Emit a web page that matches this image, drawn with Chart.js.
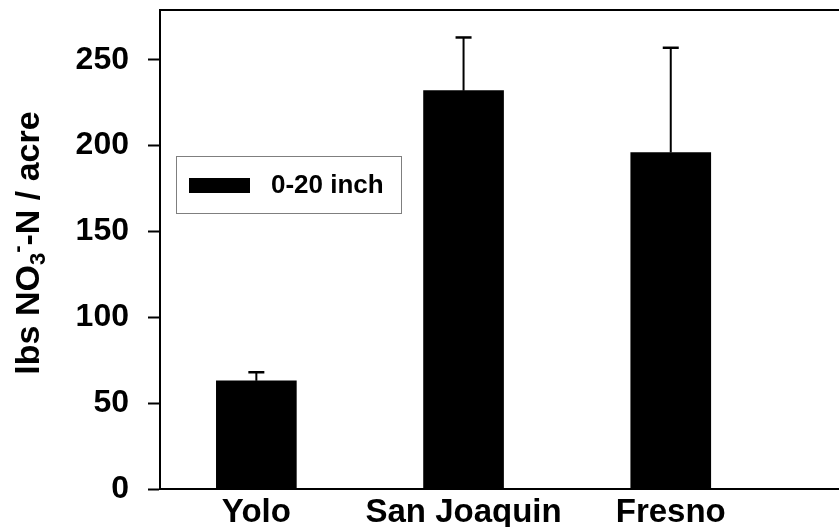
<!DOCTYPE html>
<html>
<head>
<meta charset="utf-8">
<script src="https://cdn.jsdelivr.net/npm/chart.js@4.4.0/dist/chart.umd.min.js"></script>
<style>
  html, body { margin: 0; padding: 0; background: #fff; }
  #wrap { width: 839px; height: 527px; }
</style>
</head>
<body>
<div id="wrap"><canvas id="c" width="839" height="527"></canvas></div>
<script>
// Soil nitrate (0-20 inch) by county, mean with upper error bar
const categories = ['Yolo', 'San Joaquin', 'Fresno'];
const positions = [1, 2, 3];
const nitrate = [63, 232, 196];
const stdError = [5, 31, 61];
const seriesLabel = '0-20 inch';
const yTickValues = [0, 50, 100, 150, 200, 250];
const yMin = 0;
const yMax = 279;
const xMin = 0.535;
const xMax = 3.812;

const FONT = '"Liberation Sans", Arial, Helvetica, sans-serif';

// Upward error bars with caps, placed through the chart scales
const errorBars = {
  id: 'errorBars',
  afterDatasetsDraw(chart) {
    const ctx = chart.ctx;
    const yScale = chart.scales.y;
    const meta = chart.getDatasetMeta(0);
    ctx.save();
    ctx.strokeStyle = '#000';
    meta.data.forEach((bar, i) => {
      const yTop = yScale.getPixelForValue(nitrate[i] + stdError[i]);
      ctx.lineWidth = 2;
      ctx.beginPath();
      ctx.moveTo(bar.x, bar.y);
      ctx.lineTo(bar.x, yTop);
      ctx.stroke();
      ctx.lineWidth = 2.5;
      ctx.beginPath();
      ctx.moveTo(bar.x - 8, yTop);
      ctx.lineTo(bar.x + 8, yTop);
      ctx.stroke();
    });
    ctx.restore();
  }
};

// Top frame line and boxed legend inside the plot
const frameAndLegend = {
  id: 'frameAndLegend',
  afterDraw(chart) {
    const ctx = chart.ctx;
    const a = chart.chartArea;
    ctx.save();
    ctx.strokeStyle = '#000';
    ctx.lineWidth = 2;
    ctx.beginPath();
    ctx.moveTo(a.left - 1, a.top);
    ctx.lineTo(a.right, a.top);
    ctx.stroke();

    // legend box
    const bx = a.left + 16, by = a.top + 146, bw = 225, bh = 57;
    ctx.strokeStyle = '#7f7f7f';
    ctx.lineWidth = 1;
    ctx.strokeRect(bx + 0.5, by + 0.5, bw, bh);
    ctx.fillStyle = '#000';
    ctx.fillRect(bx + 13, by + 22, 61, 15);
    ctx.font = 'bold 26px ' + FONT;
    ctx.textBaseline = 'middle';
    ctx.textAlign = 'left';
    ctx.fillText(chart.data.datasets[0].label, bx + 95, by + 30);
    ctx.restore();
  }
};

// Rotated y-axis title with subscript and superscript
const yTitle = {
  id: 'yTitle',
  afterDraw(chart) {
    const ctx = chart.ctx;
    const parts = [
      { t: 'lbs NO', size: 34, dy: 0 },
      { t: '3', size: 22, dy: 9 },
      { t: '-', size: 22, dy: -12 },
      { t: '-N / acre', size: 34, dy: 0 }
    ];
    ctx.save();
    ctx.fillStyle = '#000';
    ctx.textBaseline = 'middle';
    ctx.textAlign = 'left';
    let total = 0;
    parts.forEach(p => {
      ctx.font = 'bold ' + p.size + 'px ' + FONT;
      p.w = ctx.measureText(p.t).width;
      total += p.w;
    });
    ctx.translate(30, 243);
    ctx.rotate(-Math.PI / 2);
    let x = -total / 2;
    parts.forEach(p => {
      ctx.font = 'bold ' + p.size + 'px ' + FONT;
      ctx.fillText(p.t, x, p.dy);
      x += p.w;
    });
    ctx.restore();
  }
};

new Chart(document.getElementById('c'), {
  type: 'bar',
  data: {
    datasets: [{
      label: seriesLabel,
      data: positions.map((p, i) => ({ x: p, y: nitrate[i] })),
      backgroundColor: '#000',
      borderWidth: 0,
      barThickness: 80
    }]
  },
  options: {
    responsive: false,
    maintainAspectRatio: false,
    devicePixelRatio: 1,
    animation: false,
    layout: { padding: { top: 10, right: 0, bottom: 0, left: 0 } },
    plugins: {
      legend: { display: false },
      tooltip: { enabled: false }
    },
    scales: {
      x: {
        type: 'linear',
        offset: false,
        min: xMin,
        max: xMax,
        afterBuildTicks(scale) {
          scale.ticks = positions.map(v => ({ value: v }));
        },
        afterFit(scale) {
          scale.height = 38;
          scale.paddingLeft = 0;
          scale.paddingRight = 0;
        },
        ticks: {
          autoSkip: false,
          maxRotation: 0,
          padding: -1,
          color: '#000',
          font: { family: FONT, size: 33, weight: 'bold', lineHeight: 1 },
          callback: (v) => categories[positions.indexOf(v)] || ''
        },
        grid: { display: false },
        border: { display: true, color: '#000', width: 2 }
      },
      y: {
        min: yMin,
        max: yMax,
        afterBuildTicks(scale) {
          scale.ticks = yTickValues.map(v => ({ value: v }));
        },
        afterFit(scale) {
          scale.width = 160;
          scale.paddingTop = 0;
          scale.paddingBottom = 0;
        },
        ticks: {
          padding: 19,
          color: '#000',
          font: { family: FONT, size: 32, weight: 'bold' }
        },
        grid: {
          display: true,
          drawOnChartArea: false,
          drawTicks: true,
          tickLength: 12,
          tickColor: '#000',
          tickWidth: 2
        },
        border: { display: true, color: '#000', width: 2 }
      }
    }
  },
  plugins: [errorBars, frameAndLegend, yTitle]
});
</script>
</body>
</html>
